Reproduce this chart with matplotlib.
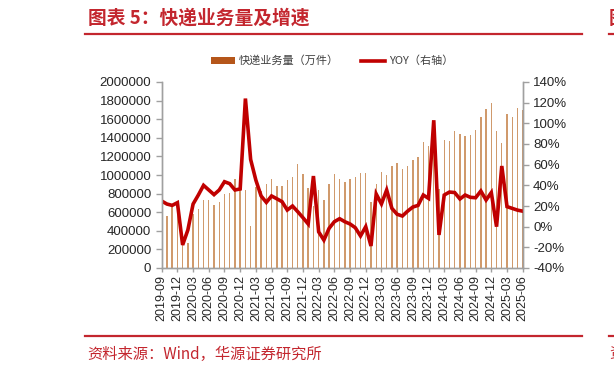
import numpy as np
import pandas as pd
import matplotlib
matplotlib.use("Agg")
import matplotlib.pyplot as plt
from matplotlib.patches import Patch
from matplotlib.lines import Line2D
from matplotlib.ticker import FuncFormatter, MultipleLocator

plt.rcParams['font.family'] = ['Liberation Sans', 'Noto Sans CJK SC']

# categories: 2019-09 ... 2025-06, monthly
months = [p.strftime("%Y-%m") for p in pd.period_range("2019-09", "2025-06", freq="M")]

# express delivery volume, 10k pieces
volume = [550000, 561000, 690000, 640000, 245000, 271000, 586000, 639000, 729000, 736000,
          682000, 711000, 800000, 807000, 954000, 860000, 836000, 450000, 871000, 830000,
          907000, 955000, 880000, 886000, 943000, 982000, 1121000, 1010000, 864000, 670000,
          836000, 736000, 907000, 1014000, 957000, 928000, 959000, 978000, 1021000, 1025000,
          711000, 903000, 1035000, 1005000, 1093000, 1128000, 1068000, 1096000, 1157000, 1193000,
          1353000, 1314000, 1443000, 846000, 1371000, 1361000, 1471000, 1443000, 1414000, 1425000,
          1489000, 1621000, 1711000, 1771000, 1478000, 1346000, 1657000, 1621000, 1721000, 1700000]

# YOY growth, %
yoy = [24.8, 21.9, 20.6, 23.2, -17.7, -3.2, 21.9, 30.6, 40.0, 35.5,
       31.0, 35.5, 43.5, 41.6, 35.5, 36.5, 124.0, 65.0, 45.0, 29.7,
       23.5, 29.7, 27.0, 24.2, 16.1, 20.0, 14.5, 8.7, 2.6, 49.0,
       -5.0, -13.0, -1.6, 4.8, 7.7, 4.8, 2.6, -1.0, -9.0, 0.0,
       -18.7, 31.6, 22.0, 35.5, 17.7, 12.0, 10.3, 15.0, 19.0, 20.6,
       30.6, 27.4, 103.0, -8.0, 30.6, 33.5, 33.0, 26.8, 30.6, 28.4,
       28.0, 34.5, 25.8, 33.0, 0.0, 58.7, 19.4, 17.7, 16.0, 15.0]

red = '#C00000'
brand = '#C3262E'
bar_color = '#D09A6C'
axis_grey = '#A0A0A0'
txt = '#262626'

fig = plt.figure(figsize=(6.14, 3.73), dpi=100)
ax = fig.add_axes([161.7 / 614, 1 - 268 / 373, (522.7 - 161.7) / 614, 186 / 373])

x = np.arange(len(months))
ax.bar(x, volume, width=0.27, color=bar_color, linewidth=0)
ax.set_xlim(0, len(months) - 1)
ax.set_ylim(0, 2000000)
ax.yaxis.set_major_locator(MultipleLocator(200000))
ax.yaxis.set_major_formatter(FuncFormatter(lambda v, p: f"{int(round(v))}"))
ax.set_xticks(x[::3])
ax.set_xticklabels(months[::3], rotation=90)

ax2 = ax.twinx()
ax2.plot(x, np.array(yoy) / 100, color=red, lw=2.6, solid_joinstyle='miter')
ax2.set_ylim(-0.4, 1.4)
ax2.yaxis.set_major_locator(MultipleLocator(0.2))
ax2.yaxis.set_major_formatter(FuncFormatter(lambda v, p: f"{v * 100:.0f}%"))

for a in (ax, ax2):
    a.spines['top'].set_visible(False)
    for s in ('left', 'right', 'bottom'):
        a.spines[s].set_color(axis_grey)
        a.spines[s].set_linewidth(1.0)
    a.tick_params(colors=axis_grey, labelcolor=txt, labelsize=9.5, length=4, width=1)
ax.tick_params(axis='x', labelsize=9, length=3, pad=2)

handles = [Patch(facecolor='#B5561A', edgecolor='none'),
           Line2D([0], [0], color=red, lw=2.6)]
fig.legend(handles, ['快递业务量（万件）', 'YOY（右轴）'], loc='center',
           bbox_to_anchor=(332 / 614, 1 - 61 / 373), ncol=2, frameon=False,
           prop={'family': 'Noto Sans CJK SC', 'size': 8}, handlelength=2.2,
           handleheight=0.6, columnspacing=2.0, handletextpad=0.3, labelcolor='#404040')

# header / footer
fig.text(88 / 614, 1 - 18 / 373, '图表 5：快递业务量及增速', color=brand, fontsize=13.5,
         fontweight='bold', family='Noto Sans CJK SC', va='center', ha='left')
fig.text(609 / 614, 1 - 18 / 373, '图', color=brand, fontsize=13.5,
         fontweight='bold', family='Noto Sans CJK SC', va='center', ha='left')
for yy in (34, 336):
    fig.add_artist(Line2D([85 / 614, 582 / 614], [1 - yy / 373] * 2, color=brand, lw=1.6))
    fig.add_artist(Line2D([609 / 614, 1.0], [1 - yy / 373] * 2, color=brand, lw=1.6))
fig.text(87 / 614, 1 - 354 / 373, '资料来源：Wind，华源证券研究所', color=brand, fontsize=11,
         family='Noto Sans CJK SC', va='center', ha='left')
fig.text(609 / 614, 1 - 354 / 373, '资', color=brand, fontsize=11,
         family='Noto Sans CJK SC', va='center', ha='left')

fig.savefig('out.png', dpi=100)
